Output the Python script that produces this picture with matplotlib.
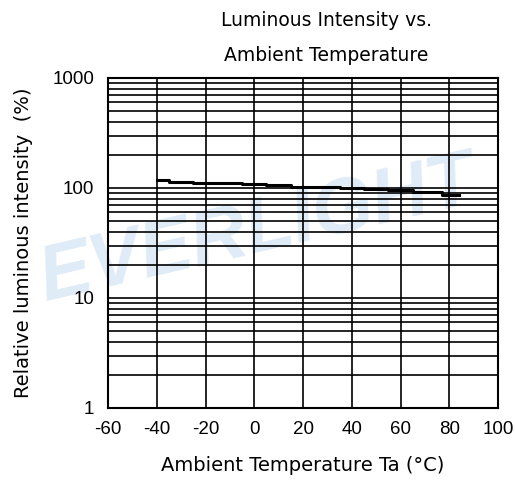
import numpy as np
import matplotlib
matplotlib.use("Agg")
from matplotlib import pyplot as plt

# data
temp = [-40, -30, -20, -10, 0, 10, 20, 30, 40, 50, 60, 70, 84]
lum = [118, 114, 112, 110, 108, 106, 103, 102, 100, 98, 95, 92, 87]

xticks = [-60, -40, -20, 0, 20, 40, 60, 80, 100]
yticks = [1, 10, 100, 1000]

plt.rcParams['font.family'] = ['Liberation Sans', 'DejaVu Sans']

fig = plt.figure(figsize=(5.15, 4.82), dpi=100)
ax = fig.add_axes([108/515, 1 - 408/482, 390/515, 330/482])

# watermark
fig.text(0.5, 0.52, 'EVERLIGHT', fontsize=56, color='#dfebf6', fontweight='bold',
         style='italic', rotation=13, ha='center', va='center', zorder=-5)
ax.set_facecolor('none')
ax.set_zorder(2)

ax.set_yscale('log')
ax.set_xlim(-60, 100)
ax.set_ylim(1, 1000)

# grid lines
for x in xticks:
    ax.axvline(x, color='black', lw=1.2, zorder=1)
for dec in [1, 10, 100]:
    for m in range(1, 10):
        ax.axhline(dec * m, color='black', lw=1.2, zorder=1)

ax.plot(temp, lum, color='black', lw=2.2, zorder=3, drawstyle='steps-mid')

ax.set_xticks(xticks)
ax.set_xticklabels([str(v) for v in xticks])
ax.set_yticks(yticks)
ax.set_yticklabels(['1', '10', '100', '1000'])
ax.yaxis.set_minor_locator(matplotlib.ticker.NullLocator())
ax.tick_params(length=0, labelsize=13.5)
ax.tick_params(axis='x', pad=9)
ax.tick_params(axis='y', pad=10)
for s in ax.spines.values():
    s.set_linewidth(1.5)

ax.set_xlabel('Ambient Temperature Ta (°C)', fontsize=14, labelpad=13,
              family='DejaVu Sans')
ax.set_ylabel('Relative luminous intensity  (%)', fontsize=14, labelpad=14,
              family='DejaVu Sans')
ax.set_title('Luminous Intensity vs.\nAmbient Temperature', fontsize=13.5,
             linespacing=2.1, pad=12, x=0.56, family='DejaVu Sans')

fig.savefig('out.png', dpi=100)
